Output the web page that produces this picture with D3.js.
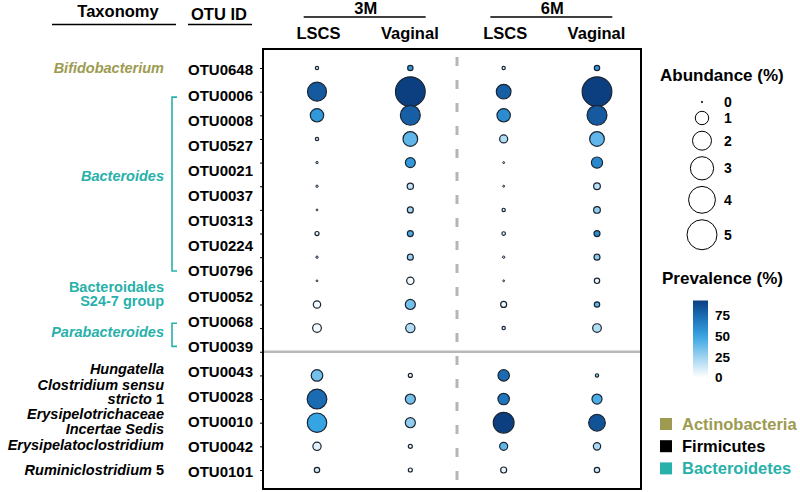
<!DOCTYPE html>
<html><head><meta charset="utf-8">
<script src="https://cdn.jsdelivr.net/npm/d3@7"></script>
<style>
html,body{margin:0;padding:0;background:#fff;}
svg{display:block;font-family:"Liberation Sans",Arial,sans-serif;font-weight:bold;}
</style></head>
<body><svg id="chart" width="800" height="492"></svg>
<script>
// ---------- DATA ----------
const otuIds = ["OTU0648","OTU0006","OTU0008","OTU0527","OTU0021","OTU0037","OTU0313","OTU0224","OTU0796","OTU0052","OTU0068","OTU0039","OTU0043","OTU0028","OTU0010","OTU0042","OTU0101"];
const timePoints = ["3M","6M"];
const deliveryModes = ["LSCS","Vaginal"];
const groups = ["LSCS_3M","Vaginal_3M","LSCS_6M","Vaginal_6M"];

// Abundance (%) per group, in otuIds order
const abundLSCS3M    = [0.06,2.0,1.0,0.06,0.03,0.03,0.015,0.09,0.03,0.015,0.3,0.42,0.75,2.15,2.1,0.38,0.16];
const abundVaginal3M = [0.16,4.9,2.2,1.2,0.55,0.22,0.2,0.2,0.2,0.3,0.56,0.48,0.09,0.56,0.56,0.09,0.09];
const abundLSCS6M    = [0.06,1.2,1.0,0.36,0.02,0.02,0.06,0.07,0.03,0.015,0.2,0.06,0.72,0.72,2.4,0.36,0.2];
const abundVaginal6M = [0.16,4.9,2.2,1.2,0.7,0.25,0.25,0.2,0.2,0.16,0.16,0.42,0.06,0.56,1.55,0.3,0.16];

// Prevalence (%) per group, in otuIds order
const prevLSCS3M    = [8,82,55,8,15,10,5,5,10,5,3,3,35,75,50,8,10];
const prevVaginal3M = [55,93,80,40,55,15,22,45,25,3,35,20,5,35,28,3,3];
const prevLSCS6M    = [5,80,60,20,10,10,10,5,10,5,5,10,75,70,93,40,5];
const prevVaginal6M = [55,93,82,40,62,18,28,60,30,5,40,20,30,45,85,22,10];

const abundanceLegend = [0,1,2,3,4,5];
const prevalenceTicks = [0,25,50,75];
const phyla = ["Actinobacteria","Firmicutes","Bacteroidetes"];
const phylumColors = ["#9d9b50","#000000","#27b1aa"];

// taxonomy labels: lines of [italic part, upright part]
const taxa = [
  {lines:[["Bifidobacterium",""]], phylum:"Actinobacteria", otus:["OTU0648"], bracket:false},
  {lines:[["Bacteroides",""]], phylum:"Bacteroidetes", otus:["OTU0006","OTU0796"], bracket:true},
  {lines:[["","Bacteroidales"],["","S24-7 group"]], phylum:"Bacteroidetes", otus:["OTU0052"], bracket:false},
  {lines:[["Parabacteroides",""]], phylum:"Bacteroidetes", otus:["OTU0068","OTU0039"], bracket:true},
  {lines:[["Hungatella",""]], phylum:"Firmicutes", otus:["OTU0043"], bracket:false},
  {lines:[["Clostridium sensu",""],["stricto"," 1"]], phylum:"Firmicutes", otus:["OTU0028"], bracket:false},
  {lines:[["Erysipelotrichaceae",""],["Incertae Sedis",""]], phylum:"Firmicutes", otus:["OTU0010"], bracket:false},
  {lines:[["Erysipelatoclostridium",""]], phylum:"Firmicutes", otus:["OTU0042"], bracket:false},
  {lines:[["Ruminiclostridium"," 5"]], phylum:"Firmicutes", otus:["OTU0101"], bracket:false}
];

// ---------- BUILD ----------
const abund = {LSCS_3M:abundLSCS3M, Vaginal_3M:abundVaginal3M, LSCS_6M:abundLSCS6M, Vaginal_6M:abundVaginal6M};
const prev  = {LSCS_3M:prevLSCS3M, Vaginal_3M:prevVaginal3M, LSCS_6M:prevLSCS6M, Vaginal_6M:prevVaginal6M};
const cells = [];
groups.forEach(g => otuIds.forEach((o,i) => cells.push({g, o, a:abund[g][i], p:prev[g][i]})));

const svg = d3.select("#chart");
const FONT = '"Liberation Sans",Arial,sans-serif';
const box = {x0:263, x1:641, y0:49, y1:489};

const bubbleRows = otuIds.slice(0,12).concat(["gap"], otuIds.slice(12));
const y = d3.scalePoint().domain(bubbleRows).range([68,470]);
const yLab = d3.scalePoint().domain(otuIds).range([70,472]);
const x = d3.scalePoint().domain(groups).range([317,597]);
const r = d3.scaleSqrt().domain([0,5]).range([0,15]);
const color = d3.scaleLinear().domain([0,25,50,75,93])
  .range(["#ffffff","#9ed3f1","#36a3e2","#1b6bb3","#0b3f80"]).clamp(true);
const phColor = d3.scaleOrdinal().domain(phyla).range(phylumColors);

// box
svg.append("rect").attr("x",box.x0).attr("y",box.y0).attr("width",box.x1-box.x0).attr("height",box.y1-box.y0)
  .attr("fill","none").attr("stroke","#000").attr("stroke-width",2);

// left ticks
const ax = svg.append("g").attr("transform",`translate(${box.x0},0)`)
  .call(d3.axisLeft(y).tickSize(3).tickFormat(""));
ax.select(".domain").remove();
ax.selectAll("line").attr("stroke","#000").attr("stroke-width",1);

// dashed separator between time points
const midX = (x("Vaginal_3M")+x("LSCS_6M"))/2;
svg.append("line").attr("x1",midX).attr("x2",midX).attr("y1",box.y0+8).attr("y2",box.y1)
  .attr("stroke","#b5b5b5").attr("stroke-width",3).attr("stroke-dasharray","9,14");
// horizontal separator (Bacteroidetes/Firmicutes)
svg.append("line").attr("x1",box.x0+1).attr("x2",box.x1-1).attr("y1",y("gap")).attr("y2",y("gap"))
  .attr("stroke","#b8b8b8").attr("stroke-width",2.5);

// bubbles
svg.append("g").selectAll("circle").data(cells).join("circle")
  .attr("cx",d=>x(d.g)).attr("cy",d=>y(d.o))
  .attr("r",d=>Math.max(0.9,r(d.a)))
  .attr("fill",d=>color(d.p))
  .attr("stroke","#1a2533").attr("stroke-width",d=>r(d.a)<1.5?1:1.2);

// headers
function hText(t,xx,yy,size,anchor){
  return svg.append("text").attr("x",xx).attr("y",yy).attr("font-size",size)
    .attr("text-anchor",anchor||"middle").attr("font-family",FONT).attr("font-weight","bold").attr("fill","#000").text(t);
}
function hLine(x1,x2,yy){
  svg.append("line").attr("x1",x1).attr("x2",x2).attr("y1",yy).attr("y2",yy).attr("stroke","#000").attr("stroke-width",1.5);
}
hText("Taxonomy",118,17,16.5); hLine(52,176,24.5);
hText("OTU ID",219,20,16.5); hLine(188,252,24.5);
timePoints.forEach(tp=>{
  const gs = deliveryModes.map(m=>m+"_"+tp);
  const cx = (x(gs[0])+x(gs[1]))/2;
  hText(tp,cx+2,14,16.5);
  hLine(cx-60,cx+62,17);
  gs.forEach((g,i)=>hText(deliveryModes[i],x(g)+(i===0?1.5:-0.5),39,16.5));
});

// OTU labels
svg.append("g").selectAll("text").data(otuIds).join("text")
  .attr("x",188).attr("y",d=>yLab(d)+5.4).attr("font-size",15).attr("font-family",FONT)
  .attr("font-weight","bold").attr("fill","#000").text(d=>d);

// taxonomy labels
const taxRight = 164;
const taxOffset = {"Bacteroides":-7, "Clostridium sensu":-4.7, "Erysipelotrichaceae":-0.4};
taxa.forEach(t=>{
  const ya = yLab(t.otus[0]), yb = yLab(t.otus[t.otus.length-1]);
  const key = t.lines[0][0]||t.lines[0][1];
  const cy = (ya+yb)/2 + (taxOffset[key]!==undefined?taxOffset[key]:-2.5);
  const lh = 14.6;
  const col = phColor(t.phylum);
  t.lines.forEach((ln,i)=>{
    const yy = cy + (i-(t.lines.length-1)/2)*lh + 5.2;
    const tx = svg.append("text").attr("x",taxRight).attr("y",yy).attr("text-anchor","end")
      .attr("font-size",14.5).attr("font-family",FONT).attr("font-weight","bold").attr("fill",col);
    if(ln[0]) tx.append("tspan").attr("font-style","italic").text(ln[0]);
    if(ln[1]) tx.append("tspan").attr("font-style","normal").text(ln[1]);
  });
  if(t.bracket){
    const bx = 172;
    svg.append("path").attr("d",`M${bx+5},${ya+2}H${bx}V${yb}H${bx+5}`)
      .attr("fill","none").attr("stroke",col).attr("stroke-width",1.6);
  }
});

// abundance legend
hText("Abundance (%)",660,81,17,"start");
let ly = 102; const legY=[];
abundanceLegend.forEach((v,i)=>{
  if(i>0){ ly += Math.max(16, r(abundanceLegend[i-1])+r(v)+6.5); }
  legY.push(ly);
});
const al = svg.append("g");
al.selectAll("circle").data(abundanceLegend).join("circle")
  .attr("cx",702).attr("cy",(d,i)=>legY[i]).attr("r",d=>Math.max(0.7,r(d)))
  .attr("fill","#fff").attr("stroke","#000").attr("stroke-width",1);
al.selectAll("text").data(abundanceLegend).join("text")
  .attr("x",724).attr("y",(d,i)=>legY[i]+5).attr("font-size",14).attr("font-family",FONT)
  .attr("font-weight","bold").text(d=>d);

// prevalence legend
hText("Prevalence (%)",662,284,17,"start");
const cbY = d3.scaleLinear().domain([0,93]).range([377.5,300.5]);
const defs = svg.append("defs");
const grad = defs.append("linearGradient").attr("id","pg").attr("x1",0).attr("y1",1).attr("x2",0).attr("y2",0);
d3.range(0,1.0001,0.1).forEach(t=>grad.append("stop").attr("offset",t).attr("stop-color",color(t*93)));
svg.append("rect").attr("x",693).attr("y",cbY(93)).attr("width",15).attr("height",cbY(0)-cbY(93)).attr("fill","url(#pg)");
const cax = svg.append("g").attr("transform","translate(708,0)")
  .call(d3.axisRight(cbY).tickValues(prevalenceTicks).tickSize(0).tickPadding(7));
cax.select(".domain").remove();
cax.selectAll("text").attr("font-size",13.5).attr("font-family",FONT).attr("font-weight","bold").attr("fill","#000");

// phylum legend
const pl = svg.append("g");
pl.selectAll("rect").data(phyla).join("rect")
  .attr("x",660).attr("y",(d,i)=>418+i*22.2).attr("width",12).attr("height",12).attr("fill",d=>phColor(d));
pl.selectAll("text").data(phyla).join("text")
  .attr("x",682).attr("y",(d,i)=>424+i*22.2+6).attr("font-size",16.5).attr("font-family",FONT)
  .attr("font-weight","bold").attr("fill",d=>phColor(d)).text(d=>d);
</script></body></html>
